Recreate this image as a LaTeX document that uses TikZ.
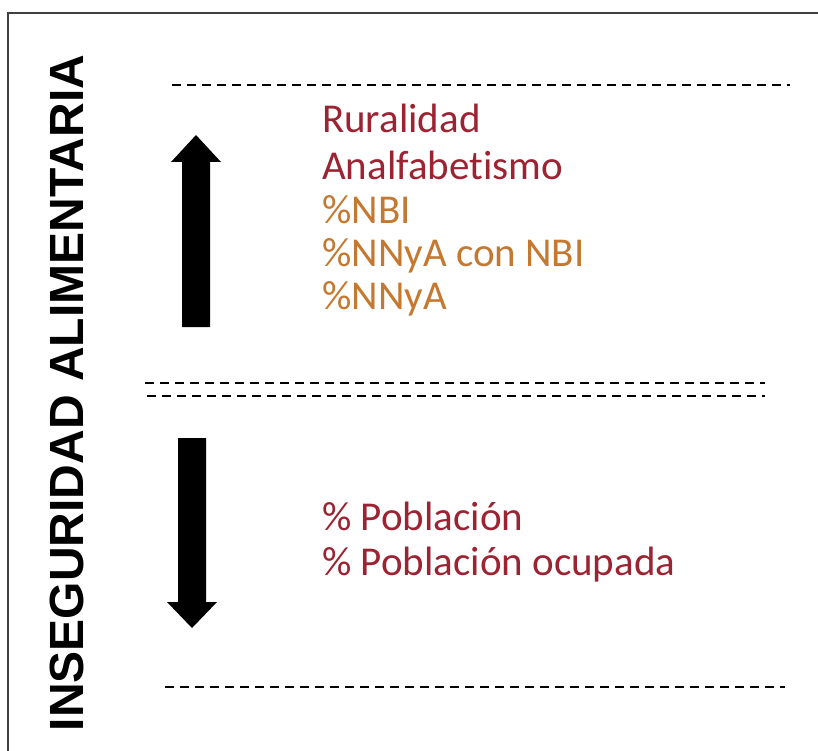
\documentclass[tikz,border=0pt]{standalone}
\usepackage{fontspec}
\setmainfont[Ligatures=NoCommon]{Carlito}
\newfontfamily\titlefont{Liberation Sans}
\usetikzlibrary{positioning}
\definecolor{darkred}{RGB}{155,35,50}
\definecolor{ocre}{RGB}{196,120,48}
\tikzset{
	sepline/.style={dash pattern=on 9pt off 6pt, line width=2pt},
	factor/.style={anchor=base west, inner sep=0pt, font=\fontsize{41}{44}\selectfont},
}
\begin{document}
\begin{tikzpicture}[x=1pt, y=-1pt]
	\useasboundingbox (0,0) rectangle (818,751);
	%frame
	\draw[line width=2pt, black!75] (8,751) -- (8,13) -- (818,13);
	%title
	\node[rotate=90, anchor=base, inner sep=0pt,
		font=\titlefont\bfseries\fontsize{48}{48}\selectfont] (titulo) at (83,393)
		{INSEGURIDAD ALIMENTARIA};
	%separators
	\draw[sepline] (172,85) -- (790,85);
	\draw[sepline] (145,383) -- (765,383);
	\draw[sepline] (147,396) -- (765,396);
	\draw[sepline] (165,687) -- (785,687);
	%arrows
	\fill (182,327) -- (182,162) -- (171,162) -- (196,135) -- (221,162)
		-- (210,162) -- (210,327) -- cycle;
	\fill (178,438) -- (178,602) -- (167,602) -- (192,628) -- (217,602)
		-- (206,602) -- (206,438) -- cycle;
	%factors
	\foreach \n/\y/\txt/\col in {1/133/Ruralidad/darkred,
		2/180/Analfabetismo/darkred,
		3/223/\%NBI/ocre,
		4/266/\%NNyA con NBI/ocre,
		5/309/\%NNyA/ocre,
		6/530/\% Población/darkred,
		7/575/\% Población ocupada/darkred}
	\node[factor, text=\col] (factor\n) at (322,\y) {\txt};
\end{tikzpicture}
\end{document}
